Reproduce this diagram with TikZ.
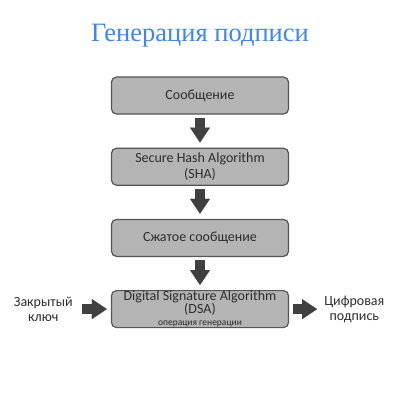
\documentclass[tikz,border=0pt]{standalone}
\usepackage{fontspec}
\setmainfont{Carlito}
\newfontfamily\titlefont{Liberation Serif}
\usetikzlibrary{arrows.meta,positioning}
\definecolor{titleblue}{RGB}{62,133,240}
\definecolor{boxgray}{RGB}{180,180,180}
\definecolor{edgegray}{RGB}{85,85,85}
\definecolor{textgray}{RGB}{45,45,45}
\definecolor{arrowgray}{RGB}{64,64,64}
\tikzstyle{block} = [align=center,draw=edgegray,fill=boxgray,rounded corners=5pt,line width=1.2pt,minimum width=177pt,minimum height=37pt,inner sep=0pt,text=textgray,font=\fontsize{14}{16}\selectfont]
\tikzstyle{data} = [align=center,inner sep=0pt,text=textgray,font=\fontsize{14}{15}\selectfont]
\tikzstyle{fat} = [draw=arrowgray,line width=10pt,-{Triangle[length=15pt,width=20pt,line width=0.1pt]}]

\begin{document}
\begin{tikzpicture}[node distance=33pt]
				\useasboundingbox (0,0) rectangle (400pt,-400pt);
				\node (title) [anchor=base,text=titleblue,font=\titlefont\fontsize{26.5}{30}\selectfont] at (200pt,-41pt) {Генерация подписи};
				\node (msg) [block] at (200pt,-95.5pt) {Сообщение};
				\node (sha) [block,below=of msg] {Secure Hash Algorithm\\(SHA)};
				\node (digest) [block,below=of sha] {Сжатое сообщение};
				\node (dsa) [block,below=of digest] {Digital Signature Algorithm\\[-3.5pt](DSA)\\[-4pt]{\fontsize{9.5}{10}\selectfont операция генерации}};
				\node (key) [data,left=38pt of dsa] {Закрытый\\ключ};
				\node (sig) [data,right=35pt of dsa] {Цифровая\\подпись};
				\draw [fat,shorten <=3pt,shorten >=5pt] (msg) -- (sha);
				\draw [fat,shorten <=3pt,shorten >=5pt] (sha) -- (digest);
				\draw [fat,shorten <=3pt,shorten >=5pt] (digest) -- (dsa);
				\draw [fat,shorten <=9pt,shorten >=4pt] (key) -- (dsa);
				\draw [fat,shorten <=4pt,shorten >=7pt] (dsa) -- (sig);
			\end{tikzpicture}
\end{document}
